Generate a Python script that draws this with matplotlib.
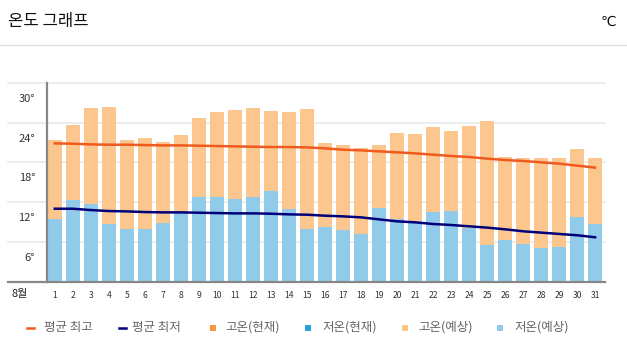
import matplotlib
matplotlib.use("Agg")
import matplotlib.pyplot as plt
from matplotlib.lines import Line2D
from matplotlib.patches import Rectangle
import matplotlib.transforms as mtransforms

plt.rcParams['font.family'] = ['Noto Sans CJK KR', 'DejaVu Sans']

days = list(range(1, 32))
high_forecast = [21.4, 23.65, 26.2, 26.35, 21.4, 21.7, 21.1, 22.15, 24.7, 25.6,
                 25.9, 26.2, 25.75, 25.6, 26.0, 20.95, 20.65, 20.2, 20.65, 22.45,
                 22.3, 23.35, 22.75, 23.5, 24.25, 18.85, 18.65, 18.65, 18.65, 20.05, 18.65]
low_forecast = [9.5, 12.25, 11.65, 8.65, 7.9, 7.9, 8.85, 10.4, 12.75, 12.75,
                12.45, 12.75, 13.65, 10.9, 7.9, 8.25, 7.75, 7.25, 11.05, 9.45,
                9.1, 10.45, 10.65, 8.15, 5.6, 6.25, 5.65, 5.05, 5.2, 9.75, 8.65]
avg_high = [20.85, 20.8, 20.7, 20.65, 20.65, 20.6, 20.55, 20.55, 20.5, 20.45,
            20.4, 20.35, 20.3, 20.3, 20.25, 20.1, 19.9, 19.8, 19.65, 19.5,
            19.35, 19.15, 18.95, 18.8, 18.55, 18.35, 18.2, 18.0, 17.8, 17.5, 17.2]
avg_low = [11.0, 11.0, 10.8, 10.65, 10.6, 10.5, 10.45, 10.45, 10.4, 10.35,
           10.3, 10.3, 10.25, 10.15, 10.1, 9.95, 9.85, 9.7, 9.4, 9.1,
           8.95, 8.7, 8.55, 8.35, 8.15, 7.9, 7.6, 7.4, 7.2, 7.0, 6.7]
y_ticks = [6, 12, 18, 24, 30]
y_tick_labels = ["6°", "12°", "18°", "24°", "30°"]
legend_labels = ["평균 최고", "평균 최저", "고온(현재)", "저온(현재)", "고온(예상)", "저온(예상)"]

W, H = 627, 355
fig = plt.figure(figsize=(W / 100, H / 100), dpi=100)

def fx(x):
    return x / W

def fy(y):
    return 1 - y / H

# Header
fig.text(fx(8), fy(21.5), "온도 그래프", fontsize=12, color="#111111", ha="left", va="center")
fig.text(fx(616), fy(21.5), "℃", fontsize=10, color="#111111", ha="right", va="center",
         family=['DejaVu Sans'])
fig.add_artist(Line2D([0, 1], [fy(45), fy(45)], transform=fig.transFigure,
                      color="#dddddd", lw=1))

# Axes
ax_left, ax_right, ax_bottom, ax_top = 46.7, 605, 281.7, 82.7
ax = fig.add_axes([fx(ax_left), fy(ax_bottom), (ax_right - ax_left) / W,
                   (ax_bottom - ax_top) / H])
ax.set_xlim(0.55, 31.55)
ax.set_ylim(0, 30)
for s in ax.spines.values():
    s.set_visible(False)

x0_axes = (8 - ax_left) / (ax_right - ax_left)
btrans = mtransforms.blended_transform_factory(ax.transAxes, ax.transData)
for v in y_ticks:
    ax.plot([x0_axes, 1], [v, v], transform=btrans, color="#ececec", lw=1.3,
            clip_on=False, zorder=0)

ax.bar(days, high_forecast, width=0.79, color="#fbc78e", zorder=2)
ax.bar(days, low_forecast, width=0.79, color="#92cbea", zorder=3)
ax.plot(days, avg_high, color="#f05a1e", lw=1.8, zorder=4)
ax.plot(days, avg_low, color="#00007a", lw=1.8, zorder=4)

# Axis lines
ax.plot([x0_axes, 1], [0, 0], transform=btrans, color="#888888", lw=1.6,
        clip_on=False, zorder=5)
ax.plot([0, 0], [0, 1], transform=ax.transAxes, color="#888888", lw=1.6,
        clip_on=False, zorder=5)

# Y labels (placed below each gridline)
lab_x = (35 - ax_left) / (ax_right - ax_left)
offset = mtransforms.ScaledTranslation(0, -16 / 100, fig.dpi_scale_trans)
for v, lab in zip(y_ticks, y_tick_labels):
    ax.text(lab_x, v, lab, transform=btrans + offset, ha="right", va="center",
            fontsize=8, color="#333333")

# X labels
ax.set_yticks([])
ax.set_xticks(days)
ax.set_xticklabels([str(d) for d in days], fontsize=6.2, color="#333333")
ax.tick_params(axis="x", length=0, pad=6.5)
fig.text(fx(12), fy(294.5), "8월", fontsize=8, color="#222222", ha="left", va="center")

# Legend
ly = 327.5
legend_items = [
    ("line", "#f05a1e", 27, 44),
    ("line", "#00007a", 119, 132),
    ("sq", "#f7963c", 210, 225),
    ("sq", "#2c9ed8", 305, 322),
    ("sq", "#fbc78e", 402, 418),
    ("sq", "#92cbea", 497, 514),
]
for (kind, col, mx, tx), lab in zip(legend_items, legend_labels):
    if kind == "line":
        fig.add_artist(Line2D([fx(mx), fx(mx + 7)], [fy(ly), fy(ly)],
                              transform=fig.transFigure, color=col, lw=1.8))
    else:
        fig.add_artist(Rectangle((fx(mx), fy(ly + 3)), 6 / W, 6 / H,
                                 transform=fig.transFigure, color=col, lw=0))
    fig.text(fx(tx), fy(ly), lab, fontsize=9, color="#666666", ha="left", va="center")

fig.savefig("out.png", dpi=100)
